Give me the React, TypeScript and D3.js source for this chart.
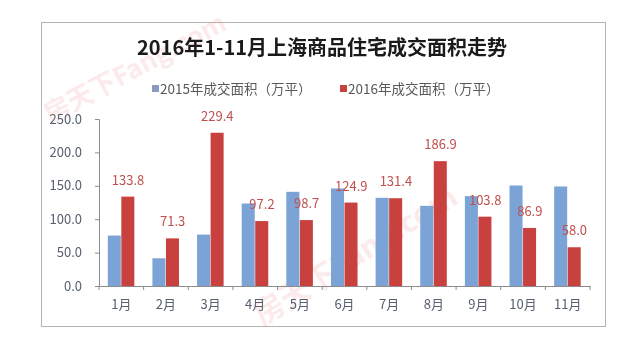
import React, { useRef, useEffect } from "react";
import * as d3 from "d3";

const months = ["1月", "2月", "3月", "4月", "5月", "6月", "7月", "8月", "9月", "10月", "11月"];
const area2015 = [75.5, 41.5, 77.0, 123.5, 141.0, 146.0, 132.0, 120.0, 134.5, 150.5, 149.0];
const area2016 = [133.8, 71.3, 229.4, 97.2, 98.7, 124.9, 131.4, 186.9, 103.8, 86.9, 58.0];
const seriesNames = ["2015年成交面积（万平）", "2016年成交面积（万平）"];
const yTicks = [0, 50, 100, 150, 200, 250];
const title = "2016年1-11月上海商品住宅成交面积走势";
const watermark = "房天下Fang.com";

const colors = ["#7ba3d6", "#c9413e"];
const font = "'Noto Sans CJK SC', 'Noto Sans', sans-serif";

export default function App() {
  const ref = useRef<SVGSVGElement>(null);
  const width = 640;
  const height = 354;

  useEffect(() => {
    const svg = d3.select(ref.current);
    svg.selectAll("*").remove();

    const margin = { top: 119, left: 99, right: 50, bottom: 68 };
    const plotRight = width - margin.right;
    const plotBottom = height - margin.bottom;

    // frame
    svg.append("rect")
      .attr("x", 41.5).attr("y", 22.5)
      .attr("width", 564).attr("height", 304)
      .attr("fill", "#fff")
      .attr("stroke", "#b4b4b4");

    // faint watermarks
    const wm = svg.append("g").attr("font-family", font).attr("fill", "#f0a0a0").attr("opacity", 0.22);
    wm.append("text")
      .attr("transform", "translate(50,124) rotate(-28)")
      .attr("font-size", 26).attr("font-weight", "bold")
      .text(watermark);
    wm.append("text")
      .attr("transform", "translate(262,326) rotate(-32)")
      .attr("font-size", 30).attr("font-weight", "bold")
      .text(watermark);

    // title
    svg.append("text")
      .attr("x", 322).attr("y", 55)
      .attr("text-anchor", "middle")
      .attr("font-family", font).attr("font-weight", "bold")
      .attr("font-size", 20).attr("fill", "#1a1a1a")
      .text(title);

    // legend
    const legendX = [152, 340];
    const legend = svg.append("g").attr("font-family", font).attr("font-size", 13.5).attr("fill", "#595959");
    seriesNames.forEach((name, i) => {
      legend.append("rect")
        .attr("x", legendX[i]).attr("y", 85)
        .attr("width", 7).attr("height", 7)
        .attr("fill", i === 0 ? "#8a9bc0" : colors[1]);
      legend.append("text")
        .attr("x", legendX[i] + 8).attr("y", 93.5)
        .text(name);
    });

    const x = d3.scaleBand<string>()
      .domain(months)
      .range([margin.left, plotRight]);

    const x1 = d3.scaleBand<number>()
      .domain([0, 1])
      .range([0, x.bandwidth()])
      .paddingOuter(0.65);

    const y = d3.scaleLinear()
      .domain([0, 250])
      .range([plotBottom, margin.top]);

    const series = [area2015, area2016];

    // bars
    series.forEach((vals, s) => {
      svg.append("g")
        .selectAll("rect")
        .data(vals)
        .join("rect")
        .attr("x", (d, i) => x(months[i])! + x1(s)!)
        .attr("y", d => y(d))
        .attr("width", x1.bandwidth() - 0.5)
        .attr("height", d => y(0) - y(d))
        .attr("fill", colors[s]);
    });

    // data labels for 2016
    svg.append("g")
      .attr("font-family", font).attr("font-size", 13).attr("fill", "#c0504d")
      .attr("text-anchor", "middle")
      .selectAll("text")
      .data(area2016)
      .join("text")
      .attr("x", (d, i) => x(months[i])! + x1(1)! + x1.bandwidth() / 2)
      .attr("y", d => y(d) - 12)
      .text(d => d.toFixed(1));

    // y axis
    const yAxis = svg.append("g")
      .attr("transform", `translate(${margin.left},0)`)
      .call(d3.axisLeft(y).tickValues(yTicks).tickFormat(d3.format(".1f")).tickSize(4).tickPadding(13));
    yAxis.select(".domain").attr("stroke", "#8c8c8c");
    yAxis.selectAll(".tick line").attr("stroke", "#8c8c8c");
    yAxis.selectAll("text").attr("font-family", font).attr("font-size", 13).attr("fill", "#56606e");

    // x axis
    const xAxis = svg.append("g")
      .attr("transform", `translate(0,${plotBottom})`)
      .call(d3.axisBottom(x).tickSize(0).tickPadding(14));
    xAxis.select(".domain").attr("stroke", "#8c8c8c");
    xAxis.selectAll("text").attr("font-family", font).attr("font-size", 13).attr("fill", "#56606e");
    xAxis.append("g")
      .selectAll("line")
      .data(months.concat(["end"]))
      .join("line")
      .attr("x1", (d, i) => (i < months.length ? x(d)! : plotRight))
      .attr("x2", (d, i) => (i < months.length ? x(d)! : plotRight))
      .attr("y1", 0).attr("y2", 4)
      .attr("stroke", "#8c8c8c");
  }, []);

  return <svg ref={ref} width={width} height={height} style={{ display: "block", margin: "-8px" }}></svg>;
}
